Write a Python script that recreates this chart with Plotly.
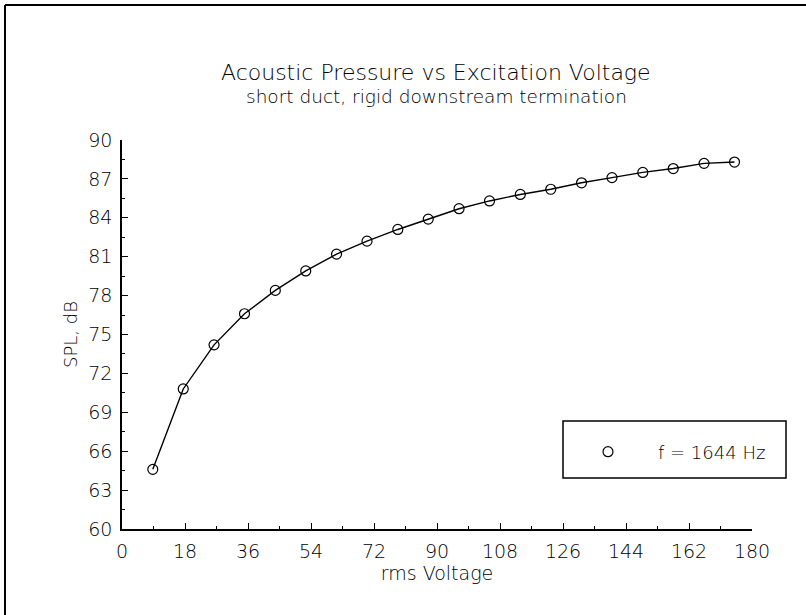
import plotly.graph_objects as go

voltage = [8.8, 17.5, 26.3, 35.0, 43.8, 52.5, 61.3, 70.0, 78.8, 87.5,
           96.3, 105.0, 113.8, 122.5, 131.3, 140.0, 148.8, 157.5, 166.3, 175.0]
spl = [64.6, 70.8, 74.2, 76.6, 78.4, 79.9, 81.2, 82.2, 83.1, 83.9,
       84.7, 85.3, 85.8, 86.2, 86.7, 87.1, 87.5, 87.8, 88.2, 88.3]

x_ticks = [0, 18, 36, 54, 72, 90, 108, 126, 144, 162, 180]
y_ticks = [60, 63, 66, 69, 72, 75, 78, 81, 84, 87, 90]

title_text = "Acoustic Pressure vs Excitation Voltage"
subtitle_text = "short duct, rigid downstream termination"
legend_name = "f = 1644 Hz"

FONT = "DejaVu Sans"
INK = "black"

fig = go.Figure()
fig.add_trace(go.Scatter(x=voltage, y=spl, mode="lines",
                         line=dict(color="black", width=1.4), showlegend=False))
fig.add_trace(go.Scatter(x=voltage, y=spl, mode="markers", name=legend_name,
                         marker=dict(symbol="circle-open", size=10, color="black",
                                     line=dict(width=1.2, color="black"))))

L, R, T, B = 122, 54, 140, 86
W, H = 806, 615
pw, ph = W - L - R, H - T - B

def px(xp):
    return (xp - L) / pw

def py(yp):
    return (H - B - yp) / ph

axis_common = dict(showline=True, linecolor="black", linewidth=1.5, ticks="inside",
                   ticklen=6, tickcolor="black", tickwidth=1.2, showgrid=False,
                   zeroline=False, mirror=False,
                   tickfont=dict(family=FONT, size=19, color=INK, weight=200))

fig.update_xaxes(range=[0, 180], tickvals=x_ticks, ticktext=[str(v) for v in x_ticks],
                 ticklabelstandoff=4,
                 minor=dict(dtick=9, tick0=0, ticks="inside", ticklen=3, tickcolor="black"),
                 title=dict(text="rms Voltage", standoff=0,
                            font=dict(family=FONT, size=19, color=INK, weight=200)),
                 **axis_common)
fig.update_yaxes(range=[60, 90], tickvals=y_ticks, ticktext=[str(v) for v in y_ticks],
                 ticklabelstandoff=4,
                 minor=dict(dtick=1.5, tick0=60, ticks="inside", ticklen=3, tickcolor="black"),
                 title=dict(text="SPL, dB", standoff=6,
                            font=dict(family=FONT, size=18, color=INK, weight=200)),
                 **axis_common)

shapes = [
    dict(type="line", xref="paper", yref="paper", x0=px(5), x1=px(806), y0=py(5), y1=py(5),
         line=dict(color="black", width=2)),
    dict(type="line", xref="paper", yref="paper", x0=px(5), x1=px(5), y0=py(5), y1=py(615),
         line=dict(color="black", width=2)),
    dict(type="rect", xref="paper", yref="paper", x0=px(563), x1=px(786), y0=py(478), y1=py(421),
         line=dict(color="black", width=1.5), fillcolor="white"),
]

annotations = [
    dict(text=title_text, xref="paper", yref="paper", x=px(436), y=py(72), showarrow=False,
         font=dict(family=FONT, size=22, color=INK, weight=200), xanchor="center", yanchor="middle"),
    dict(text=subtitle_text, xref="paper", yref="paper", x=px(436), y=py(97), showarrow=False,
         font=dict(family=FONT, size=18.5, color=INK, weight=200), xanchor="center", yanchor="middle"),
]

fig.update_layout(
    width=W, height=H, margin=dict(l=L, r=R, t=T, b=B),
    paper_bgcolor="white", plot_bgcolor="white",
    shapes=shapes, annotations=annotations,
    legend=dict(x=px(558), y=py(452), xanchor="left", yanchor="middle",
                bgcolor="rgba(0,0,0,0)", borderwidth=0, itemwidth=90,
                font=dict(family=FONT, size=18, color=INK, weight=200)),
)

fig.write_html("out.html", config={"displayModeBar": False},
               post_script="document.body.style.margin='0';document.body.style.overflow='hidden';")
